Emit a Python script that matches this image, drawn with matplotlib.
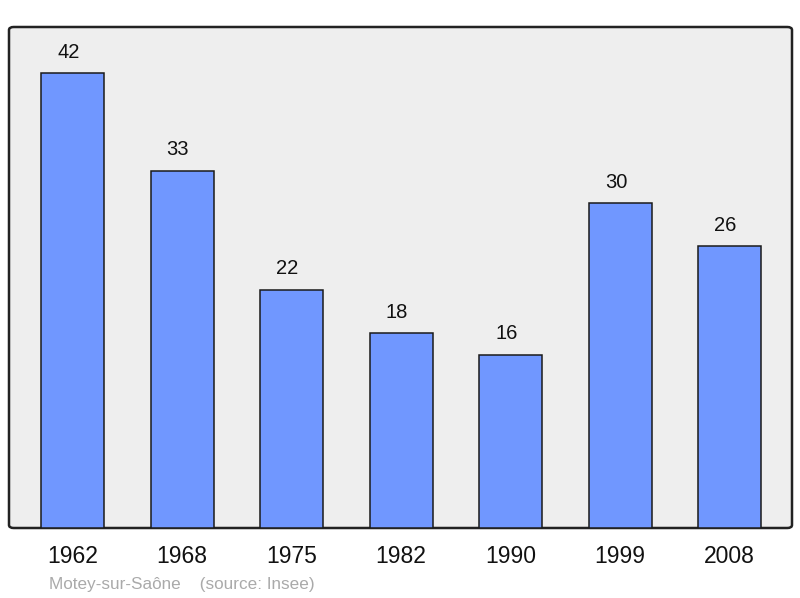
import numpy as np
import matplotlib
matplotlib.use('Agg')
from matplotlib import pyplot as plt
from matplotlib.patches import FancyBboxPatch

years = ['1962', '1968', '1975', '1982', '1990', '1999', '2008']
population = [42, 33, 22, 18, 16, 30, 26]

plt.rcParams['font.family'] = ['Liberation Sans', 'DejaVu Sans']

fig = plt.figure(figsize=(8, 5.98), dpi=100)
ax = fig.add_axes([9/800, 1 - 528/598, 783/800, 501/598])
ax.set_facecolor('none')

# rounded frame like the original
frame = FancyBboxPatch((0, 0), 1, 1, boxstyle='round,pad=0,rounding_size=0.006',
                       transform=ax.transAxes, facecolor='#eeeeee',
                       edgecolor='#222222', linewidth=1.8, zorder=0, clip_on=False)
ax.add_patch(frame)

x = np.arange(len(years))
ax.bar(x, population, width=0.575, color='#7097ff', edgecolor='#1a1a1a',
       linewidth=1.1, zorder=2)
for xi, v in zip(x, population):
    ax.annotate(str(v), (xi, v), xytext=(-3, 15), textcoords='offset points',
                ha='center', va='center', fontsize=14.5, color='#111111')

ax.set_xlim(-0.58, 6.57)
ax.set_ylim(0, 46.26)
for s in ax.spines.values():
    s.set_visible(False)
ax.set_yticks([])
ax.set_xticks(x)
ax.set_xticklabels(years, fontsize=16.5, color='#111111')
ax.tick_params(axis='x', length=0, pad=12)

fig.text(49/800, 1 - 584/598, 'Motey-sur-Saône    (source: Insee)',
         fontsize=12.3, color='#aaaaaa', ha='left', va='center')

fig.savefig('out.png', dpi=100)
